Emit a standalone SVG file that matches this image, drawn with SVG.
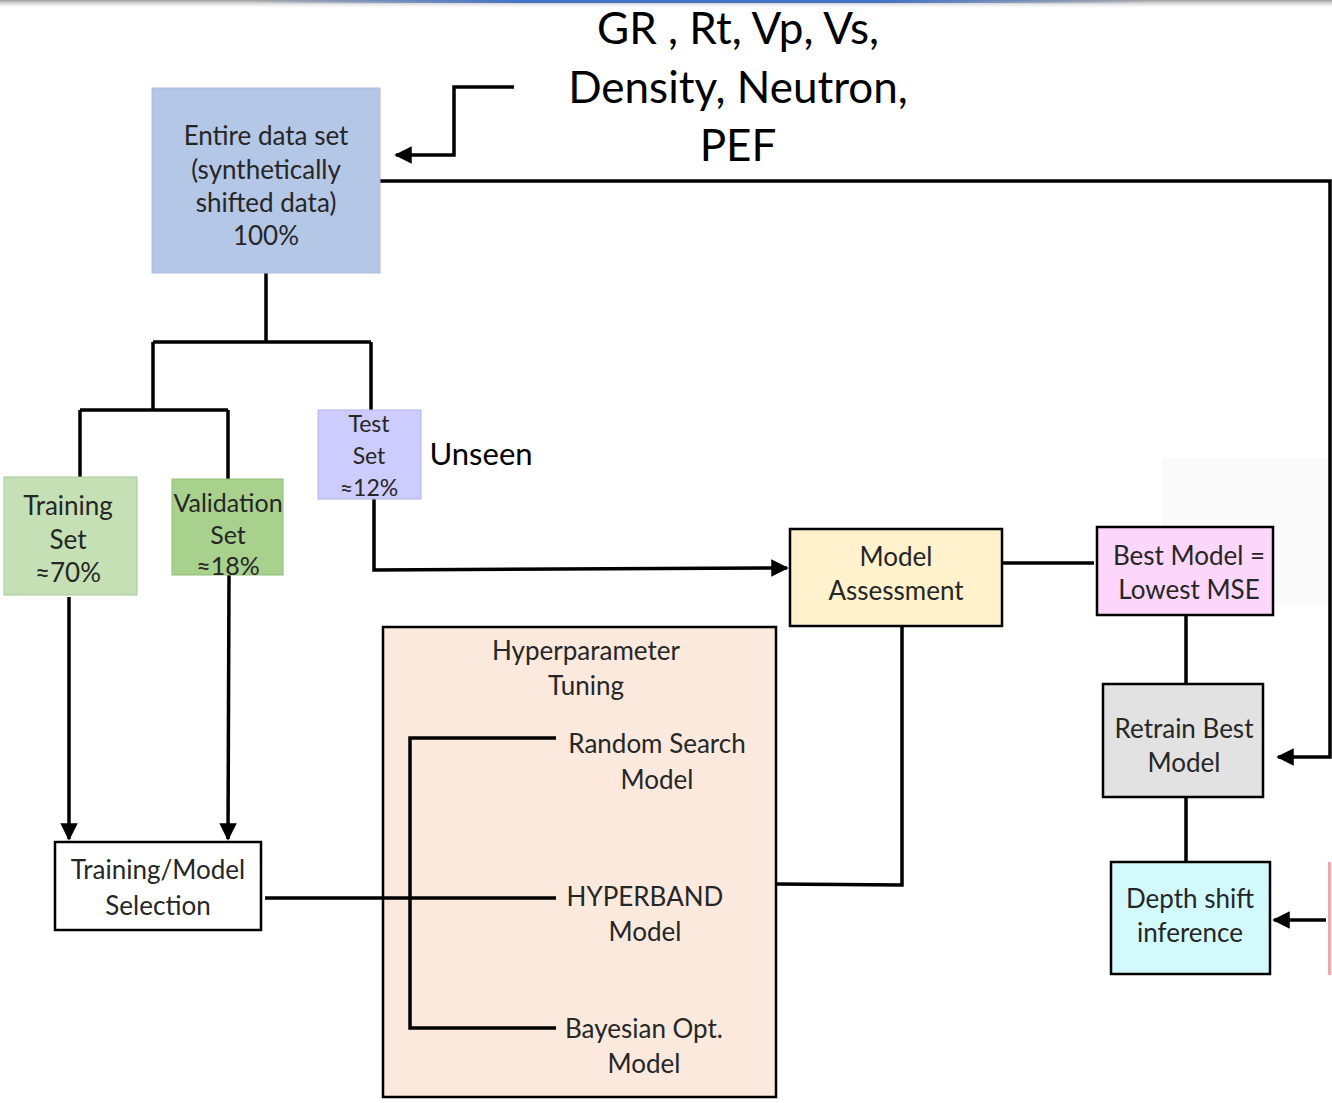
<svg xmlns="http://www.w3.org/2000/svg" width="1332" height="1103" viewBox="0 0 1332 1103">
<style>
.t{font-family:Lato,"Open Sans","Liberation Sans",sans-serif;font-size:26px;fill:#262626;text-anchor:middle;dominant-baseline:central}
.big{font-family:Lato,"Open Sans","Liberation Sans",sans-serif;font-size:44px;fill:#000;text-anchor:middle}
.c{fill:none;stroke:#000;stroke-width:3.5}
.b{stroke:#000;stroke-width:2.5}
</style>
<defs>
<marker id="ah" viewBox="0 0 10 10" refX="9" refY="5" markerWidth="5" markerHeight="5" markerUnits="strokeWidth" orient="auto">
<path d="M0,0 L10,5 L0,10 z" fill="#000"/>
</marker>
<linearGradient id="shadow" x1="0" y1="0" x2="0" y2="1">
<stop offset="0" stop-color="#9a9a9a"/>
<stop offset="1" stop-color="#fff" stop-opacity="0"/>
</linearGradient>
<linearGradient id="blue" x1="0" y1="0" x2="1" y2="0">
<stop offset="0" stop-color="#4472c4" stop-opacity="0"/>
<stop offset="0.3" stop-color="#4472c4"/>
<stop offset="0.7" stop-color="#4472c4"/>
<stop offset="1" stop-color="#4472c4" stop-opacity="0"/>
</linearGradient>
</defs>
<rect width="1332" height="1103" fill="#fff"/>
<rect x="0" y="0" width="1332" height="9" fill="url(#shadow)"/>
<rect x="250" y="0" width="900" height="3" fill="url(#blue)"/>
<rect x="1162" y="458" width="168" height="147" fill="#fafafa"/>
<rect x="1328" y="862" width="3" height="113" fill="#f4a6a6"/>

<g id="inputs">
<text class="big" x="738" y="44">GR , Rt, Vp, Vs,</text>
<text class="big" x="738" y="103">Density, Neutron,</text>
<text class="big" x="738" y="161">PEF</text>
</g>

<g id="connectors">
<path class="c" d="M514,87 H454 V155 H396" marker-end="url(#ah)"/>
<path class="c" d="M380,181 H1330 V757 H1278" marker-end="url(#ah)"/>
<path class="c" d="M266,273 V342 M153,342 H371 M153,342 V410 M371,342 V410"/>
<path class="c" d="M80,410 H228 M80,410 V477 M228,410 V479"/>
<path class="c" d="M374,499 V570 L787,568" marker-end="url(#ah)"/>
<path class="c" d="M1002,563 H1094"/>
<path class="c" d="M1186,615 V684 M1186,797 V862"/>
<path class="c" d="M1326,920 H1274" marker-end="url(#ah)"/>
<path class="c" d="M69,597 V839" marker-end="url(#ah)"/>
<path class="c" d="M229,575 L228,839" marker-end="url(#ah)"/>
<path class="c" d="M776,884 L902,885 V626"/>
</g>

<g id="entire">
<rect x="152" y="88" width="228" height="185" fill="#b4c7e7" stroke="#a9bce0" stroke-width="1"/>
<text class="t" x="266" y="135">Entire data set</text>
<text class="t" x="266" y="169">(synthetically</text>
<text class="t" x="266" y="202">shifted data)</text>
<text class="t" x="266" y="235">100%</text>
</g>

<g id="training">
<rect x="4" y="477" width="133" height="118" fill="#c5e0b4" stroke="#a9c99a" stroke-width="1"/>
<text class="t" x="68" y="505">Training</text>
<text class="t" x="68" y="539">Set</text>
<text class="t" x="68" y="572">≈70%</text>
</g>

<g id="validation">
<rect x="172" y="479" width="111" height="96" fill="#a9d18e" stroke="#93bb79" stroke-width="1"/>
<text class="t" x="228" y="502" style="font-size:25px">Validation</text>
<text class="t" x="228" y="534" style="font-size:25px">Set</text>
<text class="t" x="228" y="565" style="font-size:25px">≈18%</text>
</g>

<g id="test">
<rect x="318" y="410" width="103" height="89" fill="#ccccff" stroke="#b3b3e6" stroke-width="1"/>
<text class="t" x="369" y="423" style="font-size:23px">Test</text>
<text class="t" x="369" y="455" style="font-size:23px">Set</text>
<text class="t" x="369" y="487" style="font-size:23px">≈12%</text>
</g>

<text class="t" x="481" y="453" style="font-size:31px;fill:#000">Unseen</text>

<g id="assessment">
<rect x="790" y="529" width="212" height="97" fill="#fff2cc" class="b"/>
<text class="t" x="896" y="556">Model</text>
<text class="t" x="896" y="590">Assessment</text>
</g>

<g id="best">
<rect x="1097" y="527" width="176" height="88" fill="#fdd7fb" class="b"/>
<text class="t" x="1189" y="555">Best Model =</text>
<text class="t" x="1189" y="589">Lowest MSE</text>
</g>

<g id="retrain">
<rect x="1103" y="684" width="160" height="113" fill="#e2e2e2" class="b"/>
<text class="t" x="1184" y="728">Retrain Best</text>
<text class="t" x="1184" y="762">Model</text>
</g>

<g id="depth">
<rect x="1111" y="862" width="159" height="112" fill="#d2fafd" class="b"/>
<text class="t" x="1190" y="898">Depth shift</text>
<text class="t" x="1190" y="932">inference</text>
</g>

<g id="selection">
<rect x="55" y="842" width="206" height="88" fill="#fff" class="b"/>
<text class="t" x="158" y="869">Training/Model</text>
<text class="t" x="158" y="905">Selection</text>
</g>

<g id="tuning">
<rect x="383" y="627" width="393" height="470" fill="#fbe9de" class="b"/>
<text class="t" x="586" y="650">Hyperparameter</text>
<text class="t" x="586" y="685">Tuning</text>
<path class="c" d="M556,738 H410 V1028 H556 M265,898 H556"/>
<text class="t" x="657" y="743">Random Search</text>
<text class="t" x="657" y="779">Model</text>
<text class="t" x="645" y="896">HYPERBAND</text>
<text class="t" x="645" y="931">Model</text>
<text class="t" x="644" y="1028">Bayesian Opt.</text>
<text class="t" x="644" y="1063">Model</text>
</g>
</svg>
